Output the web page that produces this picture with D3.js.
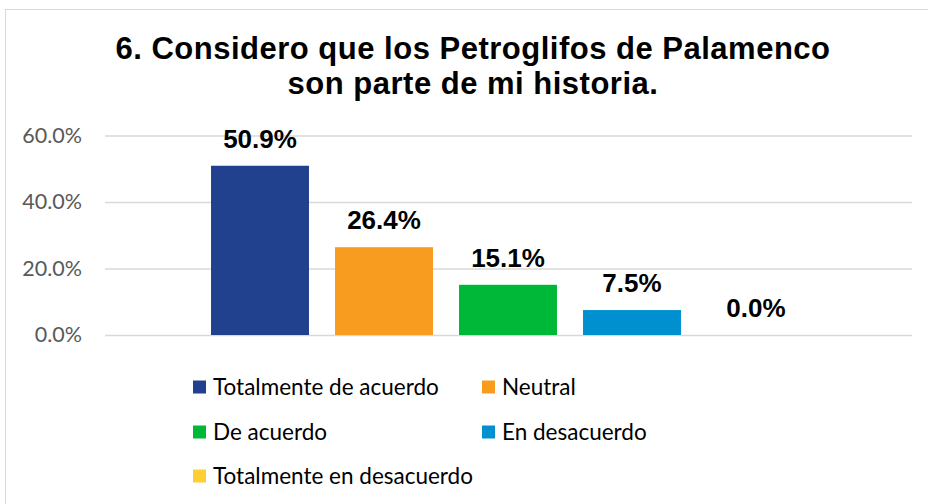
<!DOCTYPE html>
<html><head><meta charset="utf-8">
<script src="https://cdn.jsdelivr.net/npm/d3@7"></script>
<style>html,body{margin:0;padding:0;background:#fff;}svg{display:block;}</style>
</head><body>
<svg id="chart" width="928" height="504"></svg>
<script>
const titleLines = ["6. Considero que los Petroglifos de Palamenco", "son parte de mi historia."];
const categories = ["Totalmente de acuerdo", "Neutral", "De acuerdo", "En desacuerdo", "Totalmente en desacuerdo"];
const values = [50.9, 26.4, 15.1, 7.5, 0.0];
const colors = ["#21418E", "#F89C1F", "#00B838", "#0090D0", "#FFCD34"];
const yTicks = [0, 20, 40, 60];

const svg = d3.select("#chart");
const W = 928, H = 504;
const plot = {left: 105, right: 912, top: 135.5, bottom: 335};

svg.append("rect").attr("x", 5.5).attr("y", 9.5).attr("width", W).attr("height", H)
  .attr("fill", "#fff").attr("stroke", "#D9D9D9").attr("stroke-width", 1);

const title = svg.append("text").attr("text-anchor", "middle")
  .attr("font-family", "Liberation Sans, Arial, sans-serif").attr("font-weight", "bold")
  .attr("font-size", 31).attr("letter-spacing", 0.5).attr("fill", "#000");
titleLines.forEach((t, i) => title.append("tspan").attr("x", 473).attr("y", 59 + i * 35).text(t));

const y = d3.scaleLinear().domain([0, 60]).range([plot.bottom, plot.top]);
const x = d3.scaleBand().domain(categories).range([198, 818]).paddingInner(0.21).paddingOuter(0.105);

const yAxis = d3.axisLeft(y).tickValues(yTicks).tickSize(-(plot.right - plot.left)).tickPadding(23)
  .tickFormat(d => d.toFixed(1) + "%");
const ga = svg.append("g").attr("transform", `translate(${plot.left},0)`).call(yAxis);
ga.select(".domain").remove();
ga.selectAll(".tick line").attr("stroke", "#D9D9D9").attr("stroke-width", 1.5);
ga.selectAll(".tick text").attr("fill", "#595959").attr("font-family", "Lato, Carlito, sans-serif")
  .attr("font-size", 21.5);

svg.append("g").selectAll("rect").data(categories).join("rect")
  .attr("x", d => x(d)).attr("width", x.bandwidth())
  .attr("y", (d, i) => y(values[i])).attr("height", (d, i) => y(0) - y(values[i]))
  .attr("fill", (d, i) => colors[i]);

svg.append("g").selectAll("text").data(categories).join("text")
  .attr("x", d => x(d) + x.bandwidth() / 2).attr("y", (d, i) => y(values[i]) - 18)
  .attr("text-anchor", "middle").attr("font-family", "Liberation Sans, Arial, sans-serif")
  .attr("font-weight", "bold").attr("font-size", 26).attr("fill", "#000")
  .text((d, i) => values[i].toFixed(1) + "%");

const legend = svg.append("g");
const lx = [193, 482], ly = [387, 432, 476];
categories.forEach((c, i) => {
  const gx = lx[i % 2], gy = ly[Math.floor(i / 2)];
  const g = legend.append("g").attr("transform", `translate(${gx},${gy})`);
  g.append("rect").attr("x", 0).attr("y", -6.5).attr("width", 13).attr("height", 13).attr("fill", colors[i]);
  g.append("text").attr("x", 20).attr("y", 0).attr("dy", "0.35em")
    .attr("font-family", "Lato, Carlito, sans-serif").attr("font-size", 22.5).attr("fill", "#000").text(c);
});
</script>
</body></html>
